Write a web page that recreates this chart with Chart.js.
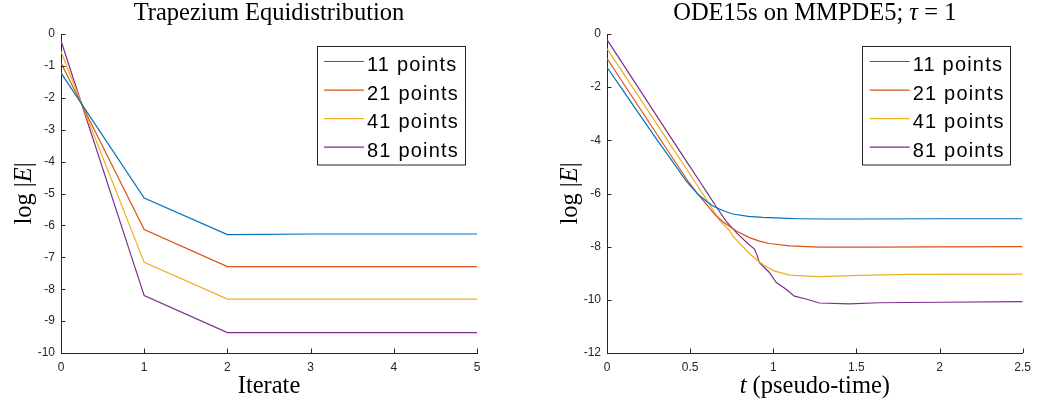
<!DOCTYPE html>
<html>
<head>
<meta charset="utf-8">
<script src="https://cdn.jsdelivr.net/npm/chart.js@4.4.1/dist/chart.umd.min.js"></script>
<style>
  html, body { margin: 0; padding: 0; background: #fff; overflow: hidden; }
  #wrap { position: relative; width: 1038px; height: 403px; background: #fff; }
  canvas { position: absolute; top: 0; }
</style>
</head>
<body>
<div id="wrap">
  <canvas id="trapChart" width="519" height="403" style="left:0"></canvas>
  <canvas id="odeChart" width="492" height="403" style="left:546px"></canvas>
</div>
<script>
// Series names and MATLAB default line colours
const seriesLabels = ['11 points', '21 points', '41 points', '81 points'];
const seriesColors = ['#0072BD', '#D95319', '#EDB120', '#7E2F8E'];

// Trapezium equidistribution: log error after each iterate
const iterates  = [0, 1, 2, 3, 4, 5];
const trapErr11 = [-1.22, -5.14, -6.29, -6.27, -6.27, -6.27];
const trapErr21 = [-0.91, -6.13, -7.29, -7.29, -7.29, -7.29];
const trapErr41 = [-0.55, -7.16, -8.31, -8.31, -8.31, -8.31];
const trapErr81 = [-0.21, -8.20, -9.36, -9.36, -9.36, -9.36];

// ODE15s on MMPDE5: log error against pseudo-time
const odeT11   = [0, 0.1, 0.2, 0.3, 0.4, 0.477, 0.55, 0.6, 0.636, 0.7, 0.756, 0.85, 0.936, 1.05, 1.157, 1.3, 1.5, 2.0, 2.5];
const odeErr11 = [-1.25, -2.16, -3.07, -3.97, -4.85, -5.53, -6.05, -6.3, -6.47, -6.65, -6.77, -6.86, -6.9, -6.93, -6.95, -6.96, -6.96, -6.95, -6.95];
const odeT21   = [0, 0.1, 0.2, 0.3, 0.4, 0.487, 0.55, 0.6, 0.65, 0.7, 0.78, 0.857, 0.917, 0.977, 1.097, 1.277, 1.6, 2.0, 2.5];
const odeErr21 = [-0.92, -1.87, -2.82, -3.77, -4.71, -5.53, -6.05, -6.42, -6.8, -7.08, -7.42, -7.66, -7.79, -7.88, -7.97, -8.02, -8.02, -8.01, -8.0];
const odeT41   = [0, 0.1, 0.2, 0.3, 0.4, 0.526, 0.58, 0.636, 0.676, 0.737, 0.757, 0.847, 0.9, 0.957, 1.0, 1.097, 1.277, 1.517, 1.82, 2.5];
const odeErr41 = [-0.55, -1.5, -2.44, -3.39, -4.34, -5.53, -6.05, -6.6, -7.0, -7.4, -7.6, -8.2, -8.5, -8.75, -8.9, -9.07, -9.13, -9.08, -9.04, -9.03];
const odeT81   = [0, 0.1, 0.2, 0.3, 0.4, 0.5, 0.556, 0.6, 0.657, 0.717, 0.787, 0.85, 0.887, 0.9, 0.917, 0.977, 1.017, 1.077, 1.127, 1.197, 1.277, 1.457, 1.637, 2.0, 2.5];
const odeErr81 = [-0.21, -1.17, -2.13, -3.09, -4.05, -5.0, -5.53, -5.95, -6.5, -7.05, -7.53, -7.9, -8.09, -8.28, -8.6, -8.97, -9.34, -9.6, -9.86, -9.97, -10.12, -10.15, -10.11, -10.09, -10.07];

// Tick values
const trapXTicks = [0, 1, 2, 3, 4, 5];
const trapYTicks = [0, -1, -2, -3, -4, -5, -6, -7, -8, -9, -10];
const odeXTicks  = [0, 0.5, 1, 1.5, 2, 2.5];
const odeYTicks  = [0, -2, -4, -6, -8, -10, -12];

const AXIS_COLOR = '#262626';
const SERIF = '"Liberation Serif", "Times New Roman", serif';
const SANS = '"Liberation Sans", Arial, sans-serif';

function pairs(xs, ys) { return xs.map((x, i) => ({ x: x, y: ys[i] })); }

function makeDatasets(xsList, ysList) {
  return ysList.map((ys, i) => ({
    label: seriesLabels[i],
    data: pairs(xsList[i], ys),
    borderColor: seriesColors[i],
    backgroundColor: seriesColors[i],
    borderWidth: 1.2,
    pointRadius: 0,
    tension: 0,
    fill: false
  }));
}

// Draws a line of text made of plain and italic runs, centred on x
function drawRuns(ctx, runs, x, y, size) {
  const widths = runs.map(([txt, it]) => {
    ctx.font = (it ? 'italic ' : '') + size + 'px ' + SERIF;
    return ctx.measureText(txt).width;
  });
  const total = widths.reduce((a, b) => a + b, 0);
  let cx = x - total / 2;
  runs.forEach(([txt, it], i) => {
    ctx.font = (it ? 'italic ' : '') + size + 'px ' + SERIF;
    ctx.fillText(txt, cx, y);
    cx += widths[i];
  });
}

// Titles, axis labels, inward tick marks and the boxed legend
const figureDecor = {
  id: 'figureDecor',
  afterDatasetsDraw(chart, args, opts) {
    const { ctx, chartArea: a, scales: { x, y } } = chart;
    ctx.save();
    // inward ticks
    ctx.strokeStyle = AXIS_COLOR;
    ctx.lineWidth = 1;
    ctx.beginPath();
    x.ticks.forEach(t => {
      const px = Math.round(x.getPixelForValue(t.value)) + 0.5;
      ctx.moveTo(px, a.bottom);
      ctx.lineTo(px, a.bottom - 4.5);
    });
    y.ticks.forEach(t => {
      const py = Math.round(y.getPixelForValue(t.value)) + 0.5;
      ctx.moveTo(a.left, py);
      ctx.lineTo(a.left + 4.5, py);
    });
    ctx.stroke();

    // titles
    ctx.fillStyle = '#000';
    ctx.textAlign = 'left';
    ctx.textBaseline = 'alphabetic';
    const cx = (a.left + a.right) / 2;
    drawRuns(ctx, opts.title, cx, 19.5, 24.5);
    drawRuns(ctx, opts.xTitle, cx, 393, 24.5);
    ctx.save();
    ctx.translate(a.left - 30.5, (a.top + a.bottom) / 2);
    ctx.rotate(-Math.PI / 2);
    drawRuns(ctx, opts.yTitle, 0, 0, 24.5);
    ctx.restore();

    // legend box
    const bx = a.right - 160.5, by = 45.5, bw = 148, bh = 118.5;
    ctx.fillStyle = '#fff';
    ctx.fillRect(bx, by, bw, bh);
    ctx.strokeStyle = AXIS_COLOR;
    ctx.lineWidth = 1;
    ctx.strokeRect(Math.round(bx) + 0.5, Math.round(by) + 0.5, bw, bh);
    ctx.font = '20px ' + SANS;
    if ('letterSpacing' in ctx) ctx.letterSpacing = '1.2px';
    chart.data.datasets.forEach((ds, i) => {
      const base = 71 + i * 28.55;
      ctx.strokeStyle = ds.borderColor;
      ctx.lineWidth = 1.2;
      ctx.beginPath();
      ctx.moveTo(bx + 7.5, base - 9.5);
      ctx.lineTo(bx + 47.5, base - 9.5);
      ctx.stroke();
      ctx.fillStyle = '#000';
      ctx.fillText(ds.label, bx + 50.5, base);
    });
    ctx.restore();
  }
};

function makeChart(canvasId, datasets, xRange, yRange, xTicks, yTicks, rightPad, decor) {
  return new Chart(document.getElementById(canvasId), {
    type: 'line',
    data: { datasets: datasets },
    plugins: [figureDecor],
    options: {
      responsive: false,
      animation: false,
      events: [],
      layout: { padding: { top: 34, right: rightPad, left: 0, bottom: 0 } },
      plugins: {
        legend: { display: false },
        tooltip: { enabled: false },
        title: { display: false },
        figureDecor: decor
      },
      scales: {
        x: {
          type: 'linear',
          min: xRange[0], max: xRange[1],
          afterBuildTicks: s => { s.ticks = xTicks.map(v => ({ value: v })); },
          afterFit: s => { s.height = 50; },
          grid: { display: false, drawTicks: false },
          border: { display: true, color: AXIS_COLOR, width: 1 },
          ticks: {
            padding: 7, color: AXIS_COLOR, font: { family: SANS, size: 12 },
            maxRotation: 0, autoSkip: false, callback: v => String(v)
          }
        },
        y: {
          type: 'linear',
          min: yRange[0], max: yRange[1],
          afterBuildTicks: s => { s.ticks = yTicks.map(v => ({ value: v })); },
          afterFit: s => { s.width = 61; },
          grid: { display: false, drawTicks: false },
          border: { display: true, color: AXIS_COLOR, width: 1 },
          ticks: {
            padding: 6, color: AXIS_COLOR, font: { family: SANS, size: 12 },
            autoSkip: false, callback: v => String(v)
          }
        }
      }
    }
  });
}

makeChart('trapChart',
  makeDatasets([iterates, iterates, iterates, iterates], [trapErr11, trapErr21, trapErr41, trapErr81]),
  [0, 5], [-10, 0], trapXTicks, trapYTicks, 42,
  {
    title: [['Trapezium Equidistribution', false]],
    xTitle: [['Iterate', false]],
    yTitle: [['log ', false], ['|', false], ['E', true], ['|', false]]
  });

makeChart('odeChart',
  makeDatasets([odeT11, odeT21, odeT41, odeT81], [odeErr11, odeErr21, odeErr41, odeErr81]),
  [0, 2.5], [-12, 0], odeXTicks, odeYTicks, 15,
  {
    title: [['ODE15s on MMPDE5; ', false], ['\u03C4', true], [' = 1', false]],
    xTitle: [['t', true], [' (pseudo-time)', false]],
    yTitle: [['log ', false], ['|', false], ['E', true], ['|', false]]
  });
</script>
</body>
</html>
